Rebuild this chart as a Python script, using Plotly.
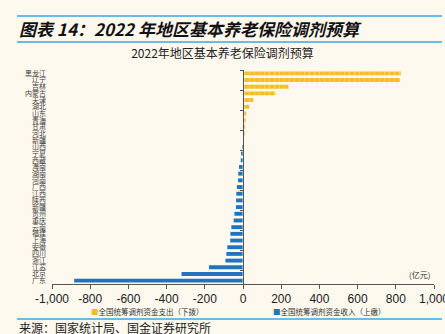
import plotly.graph_objects as go

# ---- data (亿元) ----
provinces = ["黑龙江", "辽宁", "吉林", "内蒙古", "天津", "湖北", "山东", "青海", "甘肃", "河北",
             "新疆", "山西", "宁夏", "西藏", "海南", "湖南", "河南", "广西", "江西", "陕西",
             "新疆兵团", "贵州", "重庆", "云南", "福建", "上海", "安徽", "四川", "浙江", "江苏",
             "北京", "广东"]
province_labels = ["黑龙江", "辽宁", "吉林", "内蒙古", "天津", "湖北", "山东", "青海", "甘肃", "河北",
                   "新疆", "山西", "宁夏", "西藏", "海南", "湖南", "河南", "广西", "江西", "陕西",
                   "新疆", "贵州", "重庆", "云南", "福建", "上海", "安徽", "四川", "浙江", "江苏",
                   "北京", "广东"]
# 全国统筹调剂资金支出（下拨）: net receivers
payout = [826, 822, 238, 169, 54, 33, 17, 14, 12, 7,
          1, None, None, None, None, None, None, None, None, None,
          None, None, None, None, None, None, None, None, None, None,
          None, None]
# 全国统筹调剂资金收入（上缴）: net payers
income = [None, None, None, None, None, None, None, None, None, None,
          None, -4, -8, -12, -21, -25, -26, -32, -35, -36,
          -37, -45, -49, -61, -66, -67, -82, -87, -92, -178,
          -322, -884]
x_tick_vals = [-1000, -800, -600, -400, -200, 0, 200, 400, 600, 800, 1000]
x_tick_text = ["-1,000", "-800", "-600", "-400", "-200", "0", "200", "400", "600", "800", "1,000"]

series_names = ["全国统筹调剂资金支出（下拨）", "全国统筹调剂资金收入（上缴）"]
ORANGE = "#F7BD22"
BLUE = "#1F74BD"
BG = "#FEF9EE"
CJK = "Noto Sans CJK SC"

W, H = 445, 334
ML, MR, MT, MB = 52, 11, 70, 50
PW, PH = W - ML - MR, H - MT - MB


def px_x(p):
    return (p - ML) / PW


def px_y(p):
    return (H - MB - p) / PH


fig = go.Figure()
fig.add_trace(go.Bar(x=payout, y=provinces, orientation="h", name=series_names[0],
                     marker=dict(color=ORANGE, line=dict(width=0),
                                 pattern=dict(shape="|", fgcolor="#FBE3A0", size=5, solidity=0.2,
                                              fillmode="overlay")),
                     showlegend=False))
fig.add_trace(go.Bar(x=income, y=provinces, orientation="h", name=series_names[1],
                     marker=dict(color=BLUE, line=dict(width=0)), showlegend=False))
# invisible trace carrying the axis drawn at x = 0
fig.add_trace(go.Bar(x=[0] * len(provinces), y=provinces, orientation="h", yaxis="y2",
                     marker=dict(color="rgba(0,0,0,0)"), showlegend=False, hoverinfo="skip"))

fig.update_layout(
    width=W, height=H,
    margin=dict(l=ML, r=MR, t=MT, b=MB, pad=0, autoexpand=False),
    paper_bgcolor=BG, plot_bgcolor=BG,
    barmode="relative", bargap=0.42,
    title=dict(text="2022年地区基本养老保险调剂预算", x=0.5, xref="container", xanchor="center",
               y=1 - 54 / H, yref="container", yanchor="middle",
               font=dict(family=CJK, size=12, color="#222222")),
    xaxis=dict(range=[-1000, 1000], tickmode="array", tickvals=x_tick_vals, ticktext=x_tick_text,
               showgrid=False, zeroline=False, showline=True, linecolor="#555555", linewidth=1,
               ticks="outside", ticklen=4, tickcolor="#555555", ticklabeloverflow="allow",
               automargin=False,
               tickfont=dict(family="Liberation Sans, Arial", size=12, color="#222222")),
    yaxis=dict(categoryorder="array", categoryarray=provinces, autorange="reversed",
               tickmode="array", tickvals=provinces, ticktext=province_labels,
               showgrid=False, zeroline=False, showline=False, ticks="",
               ticklabelstandoff=5, automargin=False,
               tickfont=dict(family=CJK, size=7, color="#444444")),
    yaxis2=dict(overlaying="y", matches="y", anchor="free", position=0.5, side="left",
                showgrid=False, zeroline=False, showline=True, linecolor="#555555", linewidth=1,
                ticks="outside", ticklen=3, tickcolor="#555555", tickson="boundaries",
                showticklabels=False, automargin=False),
    font=dict(family=CJK),
)

line_col = "#37A9E1"
x0, x1 = px_x(17), px_x(442)
for yy in (16, 42, 319):
    fig.add_shape(type="line", xref="paper", yref="paper", x0=x0, x1=x1, y0=px_y(yy), y1=px_y(yy),
                  line=dict(color=line_col, width=1.5))

fig.add_annotation(xref="paper", yref="paper", x=px_x(17), y=px_y(28), xanchor="left", yanchor="middle",
                   text="<b><i>图表 14：2022 年地区基本养老保险调剂预算</i></b>", showarrow=False,
                   font=dict(family=CJK, size=17, color="#111111"))
fig.add_annotation(xref="paper", yref="paper", x=px_x(419), y=px_y(274), xanchor="center", yanchor="middle",
                   text="(亿元)", showarrow=False, font=dict(family=CJK, size=8, color="#333333"))
fig.add_annotation(xref="paper", yref="paper", x=px_x(89), y=px_y(311), xanchor="left", yanchor="middle",
                   text=f'<span style="color:{ORANGE}">■</span>{series_names[0]}', showarrow=False,
                   font=dict(family=CJK, size=7.5, color="#333333"))
fig.add_annotation(xref="paper", yref="paper", x=px_x(271), y=px_y(311), xanchor="left", yanchor="middle",
                   text=f'<span style="color:{BLUE}">■</span>{series_names[1]}', showarrow=False,
                   font=dict(family=CJK, size=7.5, color="#333333"))
fig.add_annotation(xref="paper", yref="paper", x=px_x(17), y=px_y(327), xanchor="left", yanchor="middle",
                   text="来源：国家统计局、国金证券研究所", showarrow=False,
                   font=dict(family=CJK, size=12, color="#222222"))

fig.write_html("out.html")
